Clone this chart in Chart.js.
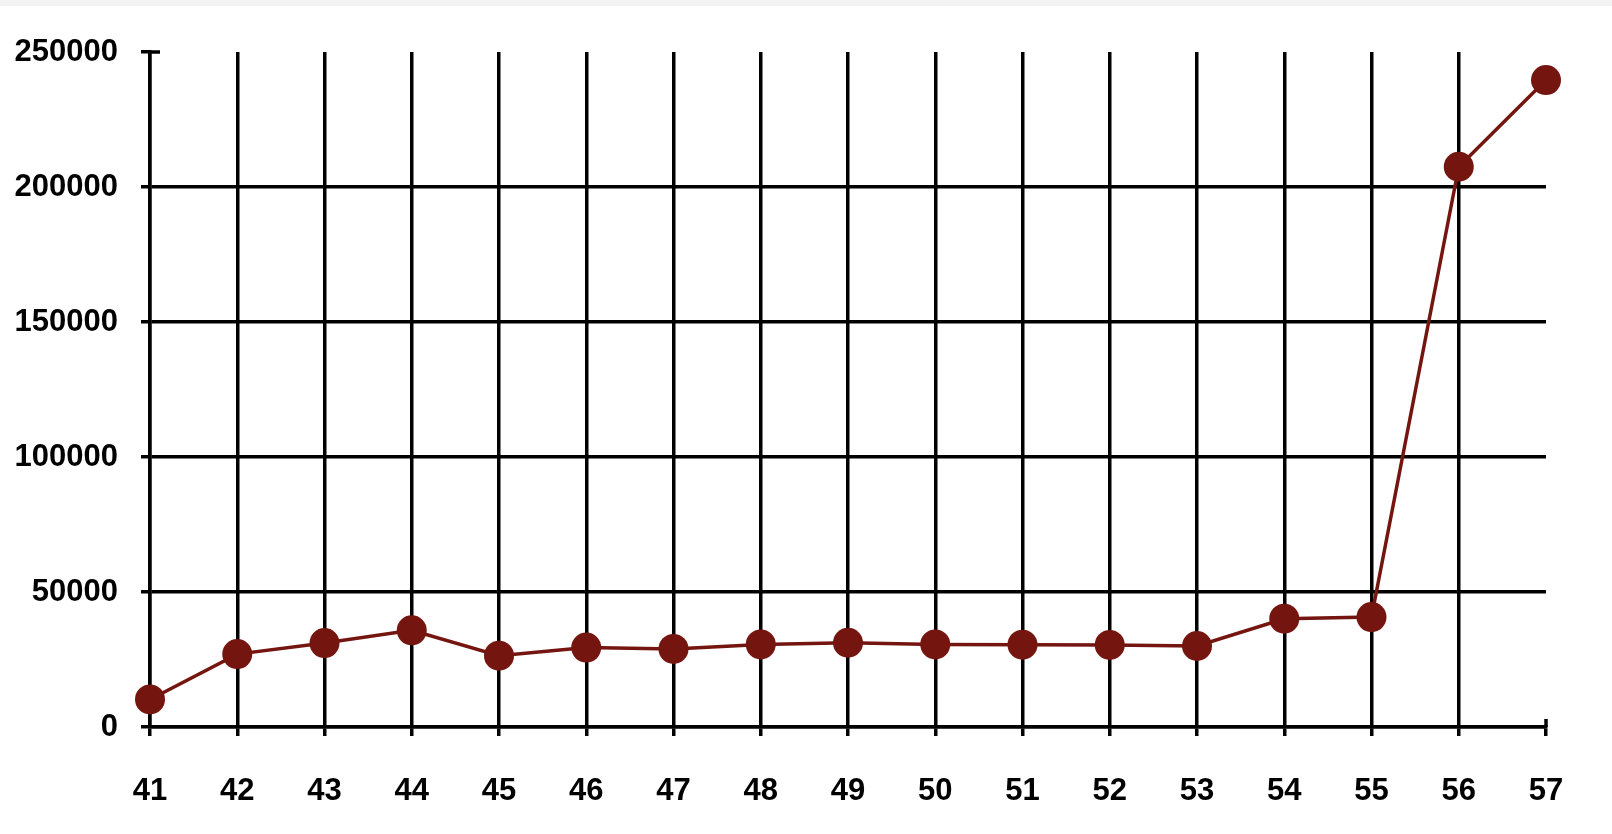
<!DOCTYPE html>
<html>
<head>
<meta charset="utf-8">
<script src="https://cdn.jsdelivr.net/npm/chart.js@4.4.1/dist/chart.umd.min.js"></script>
<style>
  html, body { margin: 0; padding: 0; background: #fff; }
  #wrap { position: relative; width: 1612px; height: 834px; }
  #band { position: absolute; left: 0; top: 0; width: 1612px; height: 6px; background: #f3f3f3; }
</style>
</head>
<body>
<div id="wrap">
  <canvas id="weeks" width="1612" height="834"></canvas>
  <div id="band"></div>
</div>
<script>
// Labels along the x-axis
var weeks = ['41','42','43','44','45','46','47','48','49','50','51','52','53','54','55','56','57'];
// Values along the y-axis
var counts = [10200,27000,31100,35800,26400,29400,28900,30600,31200,30600,30500,30400,30000,40100,40700,207500,239600];
// Y-axis range
var yMin = 0;
var yMax = 250000;
var yStep = 50000;

var lineColor = '#75150f';

// small caps at the far ends of both axes
var axisCaps = {
  id: 'axisCaps',
  afterDraw: function(chart) {
    var c = chart.ctx, x = chart.scales.x, y = chart.scales.y;
    var left = x.getPixelForValue(0);
    var right = x.getPixelForValue(weeks.length - 1);
    var top = y.getPixelForValue(yMax);
    var bottom = y.getPixelForValue(yMin);
    c.save();
    c.strokeStyle = '#000';
    c.lineWidth = 3.5;
    c.beginPath();
    c.moveTo(left, top);
    c.lineTo(left + 10, top);
    c.moveTo(right, bottom);
    c.lineTo(right, bottom - 8);
    c.stroke();
    c.restore();
  }
};

var ctx = document.getElementById('weeks');
var chart = new Chart(ctx, {
  type: 'line',
  data: {
    labels: weeks,
    datasets: [
      {
        data: counts,
        borderColor: lineColor,
        backgroundColor: lineColor,
        borderWidth: 3.5,
        pointRadius: 15,
        pointHoverRadius: 15,
        pointBorderWidth: 0,
        fill: false,
        clip: false
      }
    ]
  },
  plugins: [axisCaps],
  options: {
    responsive: false,
    animation: false,
    layout: { padding: { top: 52, right: 66, left: 0, bottom: 0 } },
    plugins: { legend: { display: false }, tooltip: { enabled: false } },
    scales: {
      x: {
        offset: false,
        afterFit: function(s) { s.height = 107; },
        border: { color: '#000', width: 3.5 },
        grid: {
          lineWidth: 3.5,
          tickLength: 9,
          tickColor: '#000',
          color: function(c) { return c.index === weeks.length - 1 ? 'rgba(0,0,0,0)' : '#000'; }
        },
        ticks: {
          color: '#000',
          padding: 37,
          maxRotation: 0,
          autoSkip: false,
          font: { family: '"Liberation Sans", Arial, sans-serif', size: 31, weight: 'bold' }
        }
      },
      y: {
        min: yMin,
        max: yMax,
        afterFit: function(s) { s.width = 150; },
        border: { color: '#000', width: 3.5 },
        grid: {
          lineWidth: 3.5,
          tickLength: 9,
          tickColor: '#000',
          color: function(c) { return c.tick && c.tick.value === yMax ? 'rgba(0,0,0,0)' : '#000'; }
        },
        ticks: {
          stepSize: yStep,
          color: '#000',
          padding: 23,
          callback: function(v) { return String(v); },
          font: { family: '"Liberation Sans", Arial, sans-serif', size: 31, weight: 'bold' }
        }
      }
    }
  }
});
</script>
</body>
</html>
